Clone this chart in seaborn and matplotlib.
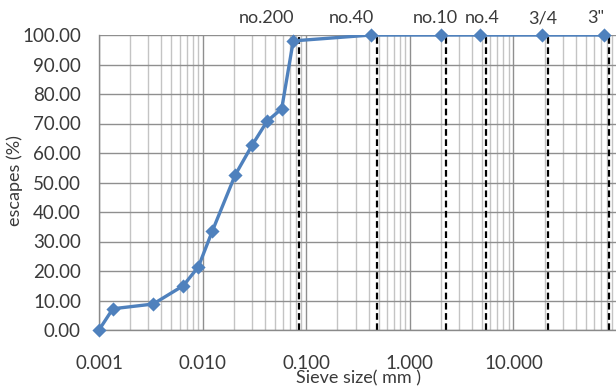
import matplotlib
matplotlib.use("Agg")
import matplotlib.pyplot as plt
from matplotlib.ticker import FixedLocator, LogLocator, NullFormatter, FuncFormatter
import seaborn as sns
import pandas as pd

# Grain size distribution (hydrometer + sieve analysis)
grain_size_mm = [0.001, 0.00136, 0.00333, 0.0065, 0.0091, 0.0124, 0.0206,
                 0.030, 0.042, 0.058, 0.075, 0.425, 2.0, 4.75, 19.0, 75.0]
passing_pct = [0.0, 7.2, 8.8, 15.0, 21.4, 33.5, 52.5,
               62.6, 70.8, 75.0, 98.0, 100.0, 100.0, 100.0, 100.0, 100.0]

# Standard sieves and their reference lines
sieve_names = ["no.200", "no.40", "no.10", "no.4", "3/4", '3"']
sieve_mm = [0.075, 0.425, 2.0, 4.75, 19.0, 75.0]
sieve_line_mm = [0.085, 0.48, 2.25, 5.4, 21.5, 83.0]
# horizontal nudges (points) for the sieve captions
sieve_label_dx = [-19, -14, -4, 2, 0, -6]

y_ticks = [0, 10, 20, 30, 40, 50, 60, 70, 80, 90, 100]
x_ticks = [0.001, 0.01, 0.1, 1, 10]
x_tick_labels = ["0.001", "0.010", "0.100", "1.000", "10.000"]

df = pd.DataFrame({"size": grain_size_mm, "passing": passing_pct})

sns.set_style("white")
plt.rcParams["font.family"] = ["Lato", "DejaVu Sans"]

text_color = "#3a3a3a"
blue = "#4F81BD"
num_size = 13.5
txt_size = 13

fig = plt.figure(figsize=(6.16, 3.87), dpi=100)
ax = fig.add_axes([99 / 616, 1 - 330 / 387, 518 / 616, 295 / 387])

ax.set_xscale("log")
ax.set_xlim(0.001, 100)
ax.set_ylim(0, 100)

# grid
ax.xaxis.set_major_locator(FixedLocator([0.001, 0.01, 0.1, 1, 10, 100]))
ax.xaxis.set_minor_locator(LogLocator(base=10, subs=range(2, 10), numticks=20))
ax.xaxis.set_minor_formatter(NullFormatter())
ax.set_xticks(x_ticks)
ax.set_xticklabels(x_tick_labels)
ax.set_yticks(y_ticks)
ax.yaxis.set_major_formatter(FuncFormatter(lambda v, p: f"{v:.2f}"))

ax.grid(which="major", axis="both", color="#8f8f8f", lw=1.0)
ax.grid(which="minor", axis="x", color="#c4c4c4", lw=1.0)
ax.set_axisbelow(True)

for side in ["top", "right"]:
    ax.spines[side].set_visible(False)
for side in ["left", "bottom"]:
    ax.spines[side].set_color("#8a8a8a")
    ax.spines[side].set_linewidth(1.0)

ax.tick_params(axis="x", which="major", direction="out", length=5, width=1,
               color="#8a8a8a", pad=13, labelsize=num_size, labelcolor=text_color)
ax.tick_params(axis="x", which="minor", length=0)
ax.tick_params(axis="y", which="major", direction="out", length=4, width=1,
               color="#8a8a8a", pad=9, labelsize=num_size, labelcolor=text_color)

# sieve reference lines
for xv in sieve_line_mm:
    ax.axvline(xv, color="black", lw=1.6, ls=(0, (3, 1.6)), zorder=2)

# gradation curve
sns.lineplot(data=df, x="size", y="passing", ax=ax, color=blue, lw=2.4,
             sort=False, estimator=None, zorder=3)
sns.scatterplot(data=df, x="size", y="passing", ax=ax, color=blue, marker="D",
                s=52, linewidth=0, clip_on=False, zorder=4)

ax.set_xlabel("")
ax.set_ylabel("")

for name, xv, dx in zip(sieve_names, sieve_mm, sieve_label_dx):
    ax.annotate(name, xy=(xv, 1), xycoords=("data", "axes fraction"),
                xytext=(dx, 12), textcoords="offset points",
                ha="center", va="center", fontsize=txt_size, color=text_color,
                annotation_clip=False)

fig.text(358 / 616, 1 - 378 / 387, "Sieve size( mm )", ha="center", va="center",
         fontsize=txt_size, color=text_color)
fig.text(15 / 616, 1 - 181 / 387, "escapes (%)", ha="center", va="center",
         rotation=90, fontsize=txt_size, color=text_color)

fig.savefig("out.png", dpi=100)
